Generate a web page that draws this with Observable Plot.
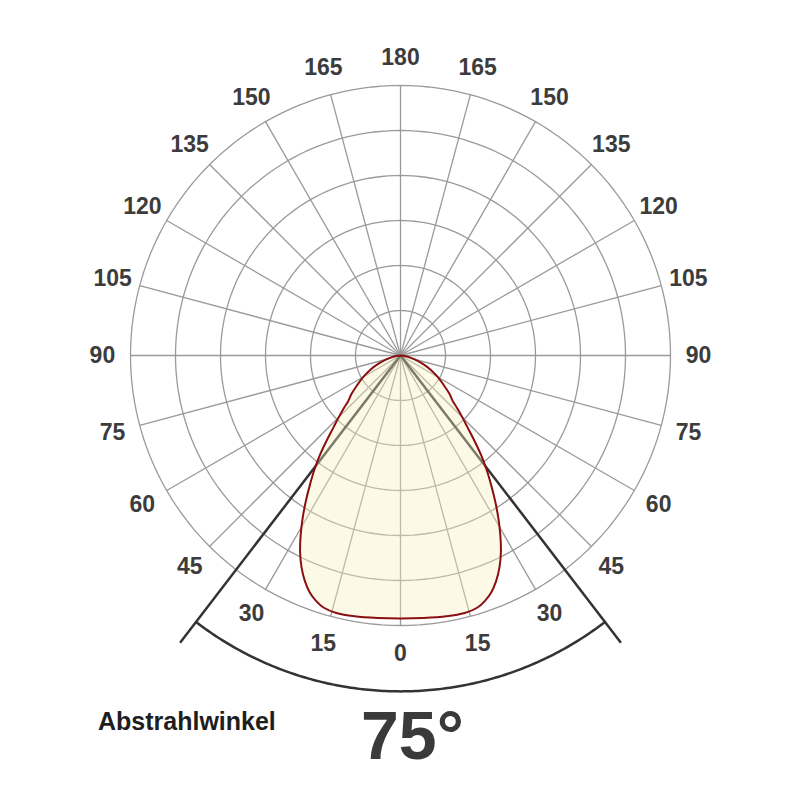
<!DOCTYPE html>
<html>
<head>
<meta charset="utf-8">
<script src="https://cdn.jsdelivr.net/npm/d3@7"></script>
<script src="https://cdn.jsdelivr.net/npm/@observablehq/plot@0.6"></script>
<style>
  body { margin: 0; background: #fff; }
  #wrap { position: relative; width: 800px; height: 800px; font-family: "Liberation Sans", Arial, sans-serif; }
  #caption { position: relative; width: 800px; height: 100px; }
  .cap { position: absolute; line-height: 1; font-weight: bold; white-space: nowrap; }
</style>
</head>
<body>
<div id="wrap">
  <div id="chart"></div>
  <div id="caption">
    <span class="cap" id="lbl" style="left:98px; top:9px; font-size:25px; color:#1e1e1e;"></span>
    <span class="cap" id="beam" style="left:361px; top:1px; font-size:68px; color:#3a3a3a;"></span>
  </div>
</div>
<script>
// ---- data (angles in degrees measured from the downward axis, intensity in % of outer ring)
const curveAngles    = [0, 5, 10, 14, 17, 19, 21, 23, 25, 27, 29, 31, 33, 35, 37, 39, 41, 43, 45, 47, 49, 52, 55, 60, 65, 70, 75, 80, 85, 90];
const curveIntensity = [97.4, 97.6, 98.1, 98.3, 97.6, 96.1, 93.9, 90.7, 86.7, 81.9, 76.3, 70.4, 64.4, 58.5, 53.0, 47.4, 41.6, 36.4, 32.4, 28.8, 25.6, 23.0, 20.0, 15.9, 12.2, 8.5, 5.2, 3.0, 1.1, 0];
const ringValues     = [100/6, 200/6, 300/6, 400/6, 500/6, 100];
const spokeAngles    = [0, 15, 30, 45, 60, 75, 90, 105, 120, 135, 150, 165, 180, 195, 210, 225, 240, 255, 270, 285, 300, 315, 330, 345];
const tickLabels     = [0, 15, 30, 45, 60, 75, 90, 105, 120, 135, 150, 165, 180];
const beamAngle      = 75;
const captionText    = "Abstrahlwinkel";

// ---- layout constants (in intensity units; outer ring = 100)
const pxPerUnit = 2.7;
const labelRadius = 110.4;
const bracketLineRadius = 134.1;
const bracketArcRadius = 124.4;

const rad = d => d * Math.PI / 180;
const px = (t, r) => r * Math.sin(rad(t));
const py = (t, r) => -r * Math.cos(rad(t));

// intensity curve (mirrored left/right)
const curvePts = [];
for (let i = curveAngles.length - 1; i >= 0; i--) curvePts.push({t: -curveAngles[i], r: curveIntensity[i]});
for (let i = 1; i < curveAngles.length; i++) curvePts.push({t: curveAngles[i], r: curveIntensity[i]});

// rings
const ringPts = [];
ringValues.forEach((r, k) => { for (let a = 0; a <= 360; a += 2) ringPts.push({ring: k, t: a, r}); });

// labels
const labelPts = [];
tickLabels.forEach(a => {
  if (a === 0 || a === 180) labelPts.push({t: a, label: String(a)});
  else { labelPts.push({t: -a, label: String(a)}); labelPts.push({t: a, label: String(a)}); }
});

// beam bracket
const half = beamAngle / 2;
const bracketLines = [{t: -half}, {t: half}];
const arcPts = [];
for (let a = -half; a <= half + 1e-9; a += 0.5) arcPts.push({t: a});

const W = 800, H = 700;
const chart = Plot.plot({
  width: W, height: H, margin: 0,
  x: {domain: [-400 / pxPerUnit, 400 / pxPerUnit], axis: null},
  y: {domain: [-(H - 355) / pxPerUnit, 355 / pxPerUnit], axis: null},
  style: {background: "#fff", fontFamily: "'Liberation Sans', Arial, sans-serif"},
  marks: [
    // grid rings
    Plot.line(ringPts, {x: d => px(d.t, d.r), y: d => py(d.t, d.r), z: "ring", stroke: "#9a9a9a", strokeWidth: 1.3}),
    // spokes
    Plot.link(spokeAngles, {x1: () => 0, y1: () => 0, x2: a => px(a, 100), y2: a => py(a, 100), stroke: "#9a9a9a", strokeWidth: 1.3}),
    // beam angle bracket
    Plot.link(bracketLines, {x1: () => 0, y1: () => 0, x2: d => px(d.t, bracketLineRadius), y2: d => py(d.t, bracketLineRadius), stroke: "#333", strokeWidth: 2.5}),
    Plot.line(arcPts, {x: d => px(d.t, bracketArcRadius), y: d => py(d.t, bracketArcRadius), stroke: "#333", strokeWidth: 2.5}),
    // intensity fill
    Plot.line(curvePts, {x: d => px(d.t, d.r), y: d => py(d.t, d.r), curve: "catmull-rom", fill: "#f9f0c0", fillOpacity: 0.38, stroke: "none"}),
    // intensity outline
    Plot.line(curvePts, {x: d => px(d.t, d.r), y: d => py(d.t, d.r), curve: "catmull-rom", stroke: "#8a1010", strokeWidth: 2}),
    // angle labels
    Plot.text(labelPts, {x: d => px(d.t, labelRadius), y: d => py(d.t, labelRadius), text: "label", fontSize: 23, fontWeight: "bold", fill: "#3c3c3c"})
  ]
});
document.getElementById("chart").appendChild(chart);
document.getElementById("lbl").textContent = captionText;
document.getElementById("beam").textContent = beamAngle + "°";
</script>
</body>
</html>
